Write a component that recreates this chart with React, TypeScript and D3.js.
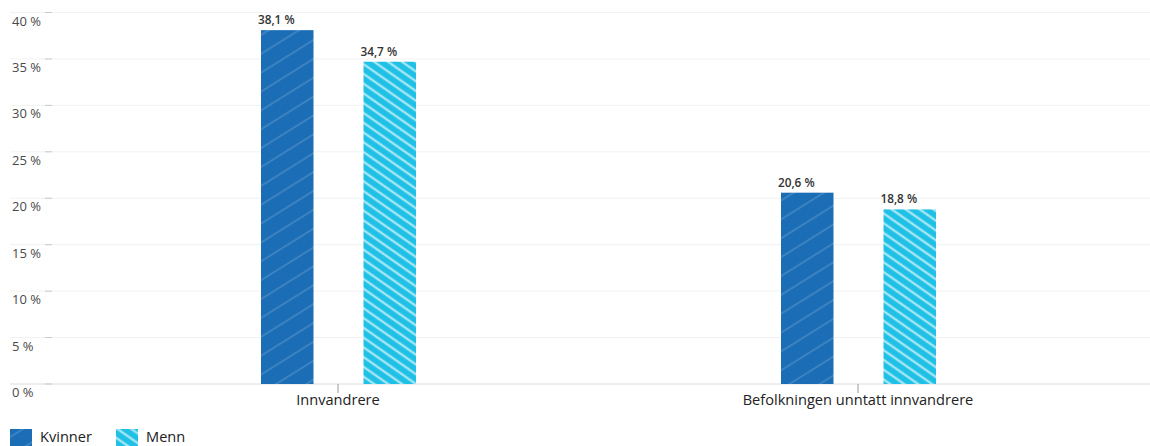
import React from "react";
import * as d3 from "d3";

const categories = ["Innvandrere", "Befolkningen unntatt innvandrere"];
const seriesNames = ["Kvinner", "Menn"];
const kvinner = [38.1, 20.6];
const menn = [34.7, 18.8];
const yTicks = [0, 5, 10, 15, 20, 25, 30, 35, 40];

const W = 1150;
const H = 446;
const FONT = "'Open Sans', 'Noto Sans', sans-serif";

const colors: Record<string, string> = { Kvinner: "#1b6db6", Menn: "#1ec0e6" };

const fmt = (v: number) => v.toFixed(1).replace(".", ",") + " %";

export default function App() {
  const y = d3.scaleLinear().domain([0, 40]).range([384, 12.5]);
  const x = d3.scaleBand<string>().domain(categories).range([78, 1118]).padding(0);
  const inner = d3
    .scaleBand<string>()
    .domain(seriesNames)
    .range([183, 338])
    .paddingInner(0.488)
    .paddingOuter(0);
  const values: Record<string, number[]> = { Kvinner: kvinner, Menn: menn };

  return (
    <svg
      width={W}
      height={H}
      style={{ position: "absolute", left: 0, top: 0, background: "#fff" }}
      fontFamily={FONT}
    >
      <defs>
        <pattern id="pK" patternUnits="userSpaceOnUse" width="16" height="16" patternTransform="rotate(-32)">
          <rect width="16" height="16" fill={colors.Kvinner} />
          <line x1="0" y1="8" x2="16" y2="8" stroke="#ffffff" strokeOpacity="0.28" strokeWidth="1" />
        </pattern>
        <pattern id="pM" patternUnits="userSpaceOnUse" width="8" height="8" patternTransform="rotate(35)">
          <rect width="8" height="8" fill={colors.Menn} />
          <line x1="0" y1="4" x2="8" y2="4" stroke="#ffffff" strokeOpacity="0.6" strokeWidth="2.4" />
        </pattern>
      </defs>

      {yTicks.map((t) => (
        <g key={t}>
          <line
            x1={10}
            x2={W}
            y1={y(t)}
            y2={y(t)}
            stroke={t === 0 ? "#dcdcdc" : "#f2f2f2"}
            strokeWidth={1}
          />
          <line x1={45} x2={52} y1={y(t)} y2={y(t)} stroke="#c8c8c8" strokeWidth={1} />
          <text x={12} y={y(t) + 13} fontSize={13} fill="#4a4a4a">
            {t} %
          </text>
        </g>
      ))}

      {categories.map((c, i) => {
        const cx = (x(c) as number) + x.bandwidth() / 2;
        return (
          <g key={c}>
            <line x1={cx} x2={cx} y1={384} y2={393} stroke="#999" strokeWidth={1} />
            <text x={cx} y={405} textAnchor="middle" fontSize={14.6} fill="#222">
              {c}
            </text>
            {seriesNames.map((s) => {
              const v = values[s][i];
              const bx = (x(c) as number) + (inner(s) as number);
              const bw = inner.bandwidth();
              return (
                <g key={s}>
                  <rect
                    x={bx}
                    y={y(v)}
                    width={bw}
                    height={y(0) - y(v)}
                    fill={s === "Kvinner" ? "url(#pK)" : "url(#pM)"}
                  />
                  <text
                    x={bx + bw / 2 - 11}
                    y={y(v) - 6}
                    textAnchor="middle"
                    fontSize={11.8}
                    fontWeight={600}
                    fill="#333"
                  >
                    {fmt(v)}
                  </text>
                </g>
              );
            })}
          </g>
        );
      })}

      {seriesNames.map((s, i) => {
        const lx = i === 0 ? 10 : 116;
        return (
          <g key={s}>
            <rect
              x={lx}
              y={429}
              width={22}
              height={17}
              fill={s === "Kvinner" ? "url(#pK)" : "url(#pM)"}
            />
            <text x={lx + 30} y={442} fontSize={14.6} fill="#222">
              {s}
            </text>
          </g>
        );
      })}
    </svg>
  );
}
